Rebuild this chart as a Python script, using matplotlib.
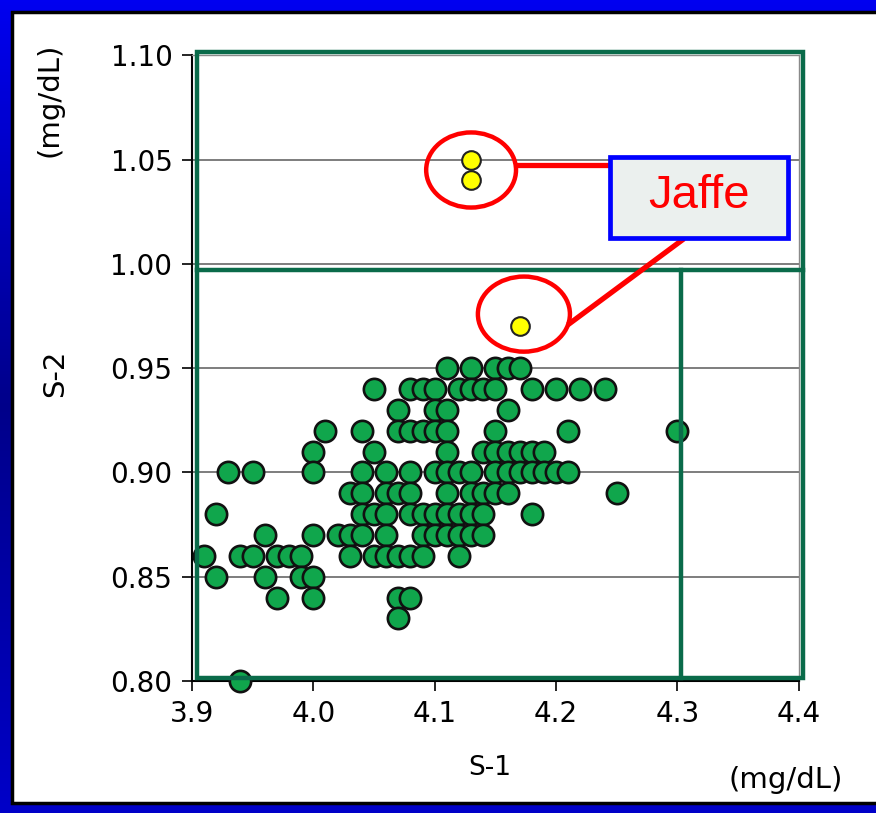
import numpy as np
import matplotlib.pyplot as plt
from matplotlib.patches import Rectangle, Ellipse
from matplotlib.colors import LinearSegmentedColormap

# S-1 / S-2 paired results, grouped by S-2 value (mg/dL)
rows = {
    0.95: [4.11, 4.13, 4.15, 4.16, 4.17],
    0.94: [4.05, 4.08, 4.09, 4.10, 4.12, 4.13, 4.14, 4.15, 4.18, 4.20, 4.22, 4.24],
    0.93: [4.07, 4.10, 4.11, 4.16],
    0.92: [4.01, 4.04, 4.07, 4.08, 4.09, 4.10, 4.11, 4.15, 4.21, 4.30],
    0.91: [4.00, 4.05, 4.11, 4.14, 4.15, 4.16, 4.17, 4.18, 4.19],
    0.90: [3.93, 3.95, 4.00, 4.04, 4.06, 4.08, 4.10, 4.11, 4.12, 4.13, 4.15,
           4.16, 4.17, 4.18, 4.19, 4.20, 4.21],
    0.89: [4.03, 4.04, 4.06, 4.07, 4.08, 4.11, 4.13, 4.14, 4.15, 4.16, 4.25],
    0.88: [3.92, 4.04, 4.05, 4.06, 4.08, 4.09, 4.10, 4.11, 4.12, 4.13, 4.14, 4.18],
    0.87: [3.96, 4.00, 4.02, 4.03, 4.04, 4.06, 4.09, 4.10, 4.11, 4.12, 4.13, 4.14],
    0.86: [3.91, 3.94, 3.95, 3.97, 3.98, 3.99, 4.03, 4.05, 4.06, 4.07, 4.08,
           4.09, 4.12],
    0.85: [3.92, 3.96, 3.99, 4.00],
    0.84: [3.97, 4.00, 4.07, 4.08],
    0.83: [4.07],
    0.80: [3.94],
}
s1 = [x for y, xs in rows.items() for x in xs]
s2 = [y for y, xs in rows.items() for x in xs]

# Jaffe samples
jaffe_s1 = [4.13, 4.13, 4.17]
jaffe_s2 = [1.05, 1.04, 0.97]

xticks = [3.9, 4.0, 4.1, 4.2, 4.3, 4.4]
yticks = [0.80, 0.85, 0.90, 0.95, 1.00, 1.05, 1.10]

plt.rcParams['font.family'] = ['DejaVu Sans']

fig = plt.figure(figsize=(8.76, 8.13), dpi=100)

# blue slide background with a white panel
bg = fig.add_axes([0, 0, 1, 1])
grad = np.linspace(0, 1, 256).reshape(-1, 1)
blues = LinearSegmentedColormap.from_list('slide', ['#0000f0', '#00008a', '#0000c8'])
bg.imshow(grad, aspect='auto', cmap=blues, extent=[0, 1, 0, 1])
bg.add_patch(Rectangle((12 / 876, 10 / 813), 1.05, 1 - 22 / 813,
                       facecolor='white', edgecolor='black', lw=2.5))
bg.set_xlim(0, 1)
bg.set_ylim(0, 1)
bg.axis('off')

ax = fig.add_axes([0.219, 0.1624, 0.693, 0.7696])
ax.set_facecolor('none')
ax.set_xlim(3.9, 4.4)
ax.set_ylim(0.80, 1.10)
ax.set_xticks(xticks)
ax.set_xticklabels([f'{v:.1f}' for v in xticks])
ax.set_yticks(yticks)
ax.set_yticklabels([f'{v:.2f}' for v in yticks])
ax.tick_params(labelsize=20, length=7, width=1.2, pad=7, colors='black')
ax.grid(axis='y', color='#5a5a5a', lw=1.1)
ax.set_axisbelow(True)
for side in ['top', 'right']:
    ax.spines[side].set_color('#8a8a8a')
    ax.spines[side].set_linewidth(1.0)
for side in ['left', 'bottom']:
    ax.spines[side].set_linewidth(1.5)

ax.scatter(s1, s2, s=235, color='#10a64c', edgecolors='#111111',
           linewidths=1.9, zorder=3, clip_on=False)
ax.scatter(jaffe_s1, jaffe_s2, s=180, color='#ffff00', edgecolors='#222222',
           linewidths=1.5, zorder=3)

# green region boxes
green = '#0a6b4a'
ax.add_patch(Rectangle((3.904, 0.8014), 4.4033 - 3.904, 1.1014 - 0.8014,
                       fill=False, edgecolor=green, lw=3.2, zorder=4, clip_on=False))
ax.plot([3.904, 4.4033], [0.9969, 0.9969], color=green, lw=3.2, zorder=4, clip_on=False)
ax.plot([4.3028, 4.3028], [0.8014, 0.9969], color=green, lw=3.2, zorder=4, clip_on=False)

# Jaffe call-out
red = '#ff0000'
ax.add_patch(Ellipse((4.13, 1.045), 0.074, 0.036, fill=False, edgecolor=red,
                     lw=3.2, zorder=5))
ax.add_patch(Ellipse((4.1735, 0.9759), 0.0758, 0.036, fill=False, edgecolor=red,
                     lw=3.2, zorder=5))
ax.plot([4.1685, 4.246], [1.0472, 1.0472], color=red, lw=3.8, zorder=5)
ax.plot([4.2114, 4.3036], [0.9715, 1.0113], color=red, lw=3.8, zorder=5)
ax.add_patch(Rectangle((4.2443, 1.0123), 4.3909 - 4.2443, 1.0511 - 1.0123,
                       facecolor='#ebf0ee', edgecolor='#0000ff', lw=3.4, zorder=6))
ax.text(4.3176, 1.0325, 'Jaffe', color=red, fontsize=34, ha='center',
        va='center', zorder=7, family=['Liberation Sans'])

# axis titles and units
fig.text(490 / 876, 1 - 768 / 813, 'S-1', fontsize=19, ha='center', va='center')
fig.text(55 / 876, 1 - 373 / 813, 'S-2', fontsize=21, ha='center', va='center',
         rotation=90)
fig.text(50 / 876, 1 - 100 / 813, '(mg/dL)', fontsize=21, ha='center', va='center',
         rotation=90)
fig.text(786 / 876, 1 - 780 / 813, '(mg/dL)', fontsize=21, ha='center', va='center')

plt.savefig('out.png', dpi=100)
